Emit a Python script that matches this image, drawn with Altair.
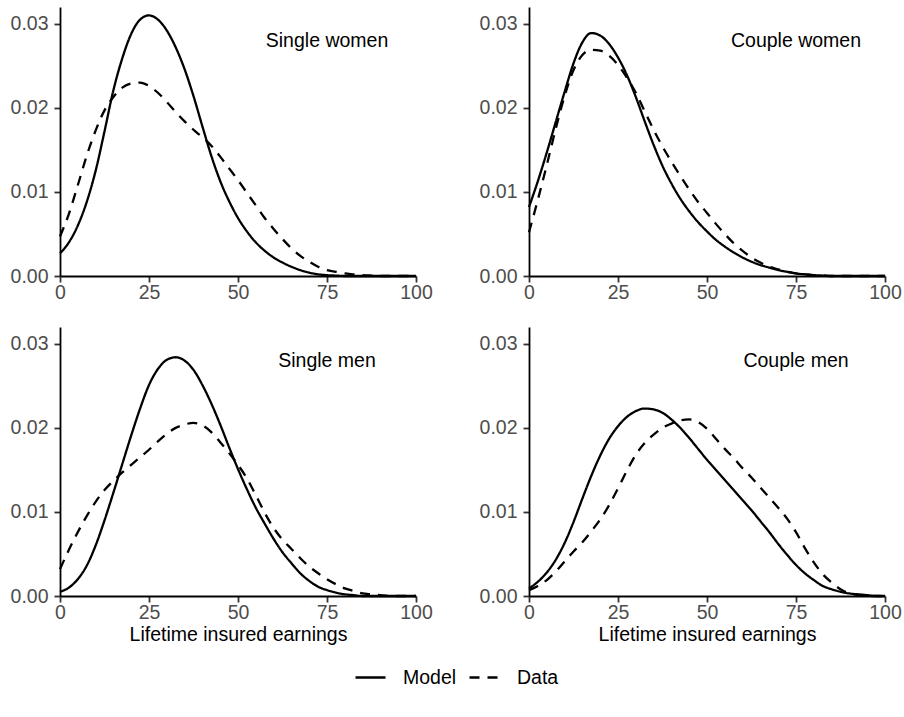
import altair as alt
import pandas as pd

# Common grid of lifetime insured earnings (0 to 100 in steps of 2.5)
earnings = [i * 2.5 for i in range(41)]

panel_names = ["Single women", "Couple women", "Single men", "Couple men"]

single_women_model = [
    0.0027, 0.0040, 0.0060, 0.0088, 0.0125, 0.0172, 0.0221, 0.0259, 0.0288, 0.0305,
    0.0310, 0.0305, 0.0292, 0.0272, 0.0246, 0.0214, 0.0178, 0.0143, 0.0113, 0.0089,
    0.0069, 0.0053, 0.0040, 0.0030, 0.0022, 0.0016, 0.0011, 0.0007, 0.0004, 0.0002,
    0.0001, 0.00005, 0.0, 0.0, 0.0, 0.0, 0.0, 0.0, 0.0, 0.0, 0.0,
]
single_women_data = [
    0.0047, 0.0074, 0.0108, 0.0143, 0.0173, 0.0197, 0.0213, 0.0224, 0.0229, 0.0230,
    0.0226, 0.0218, 0.0207, 0.0195, 0.0184, 0.0174, 0.0165, 0.0155, 0.0142, 0.0128,
    0.0114, 0.0099, 0.0084, 0.0069, 0.0056, 0.0044, 0.0033, 0.0024, 0.0017, 0.0011,
    0.0007, 0.0005, 0.0003, 0.0002, 0.0001, 0.00005, 0.0, 0.0, 0.0, 0.0, 0.0,
]
couple_women_model = [
    0.0082, 0.0113, 0.0147, 0.0183, 0.0219, 0.0253, 0.0278, 0.0289, 0.0286, 0.0276,
    0.0260, 0.0239, 0.0213, 0.0184, 0.0156, 0.0131, 0.0110, 0.0092, 0.0077, 0.0064,
    0.0053, 0.0043, 0.0035, 0.0028, 0.0022, 0.0017, 0.0013, 0.0010, 0.0007, 0.0005,
    0.0003, 0.0002, 0.0001, 0.00005, 0.0, 0.0, 0.0, 0.0, 0.0, 0.0, 0.0,
]
couple_women_data = [
    0.0052, 0.0091, 0.0132, 0.0175, 0.0214, 0.0245, 0.0263, 0.0269, 0.0268, 0.0262,
    0.0251, 0.0236, 0.0218, 0.0196, 0.0174, 0.0154, 0.0136, 0.0119, 0.0103, 0.0088,
    0.0075, 0.0062, 0.0050, 0.0039, 0.0030, 0.0022, 0.0016, 0.0011, 0.0008, 0.0005,
    0.0003, 0.0002, 0.0001, 0.00005, 0.0, 0.0, 0.0, 0.0, 0.0, 0.0, 0.0,
]
single_men_model = [
    0.0005, 0.0010, 0.0020, 0.0036, 0.0060, 0.0090, 0.0123, 0.0157, 0.0191, 0.0223,
    0.0251, 0.0270, 0.0281, 0.0284, 0.0280, 0.0269, 0.0251, 0.0229, 0.0204, 0.0177,
    0.0151, 0.0127, 0.0105, 0.0086, 0.0068, 0.0052, 0.0039, 0.0027, 0.0018, 0.0011,
    0.0007, 0.0004, 0.0002, 0.0001, 0.0, 0.0, 0.0, 0.0, 0.0, 0.0, 0.0,
]
single_men_data = [
    0.0032, 0.0055, 0.0076, 0.0095, 0.0112, 0.0126, 0.0137, 0.0147, 0.0156, 0.0165,
    0.0174, 0.0184, 0.0193, 0.0200, 0.0204, 0.0206, 0.0203, 0.0195, 0.0183, 0.0170,
    0.0156, 0.0140, 0.0120, 0.0099, 0.0081, 0.0067, 0.0056, 0.0045, 0.0035, 0.0027,
    0.0020, 0.0014, 0.0009, 0.0006, 0.0003, 0.0002, 0.0001, 0.0, 0.0, 0.0, 0.0,
]
couple_men_model = [
    0.0009, 0.0017, 0.0028, 0.0043, 0.0063, 0.0088, 0.0116, 0.0143, 0.0167, 0.0187,
    0.0202, 0.0213, 0.0220, 0.0223, 0.0222, 0.0218, 0.0210, 0.0200, 0.0188, 0.0175,
    0.0162, 0.0150, 0.0138, 0.0126, 0.0114, 0.0102, 0.0089, 0.0076, 0.0062, 0.0049,
    0.0037, 0.0027, 0.0019, 0.0012, 0.0008, 0.0005, 0.0003, 0.0002, 0.0001, 0.0, 0.0,
]
couple_men_data = [
    0.0007, 0.0012, 0.0019, 0.0029, 0.0041, 0.0053, 0.0064, 0.0077, 0.0091, 0.0108,
    0.0128, 0.0149, 0.0168, 0.0182, 0.0192, 0.0200, 0.0205, 0.0209, 0.0210, 0.0207,
    0.0199, 0.0187, 0.0175, 0.0164, 0.0152, 0.0141, 0.0129, 0.0117, 0.0105, 0.0092,
    0.0076, 0.0057, 0.0040, 0.0026, 0.0016, 0.0008, 0.0003, 0.0001, 0.0, 0.0, 0.0,
]

series_by_panel = {
    "Single women": (single_women_model, single_women_data),
    "Couple women": (couple_women_model, couple_women_data),
    "Single men": (single_men_model, single_men_data),
    "Couple men": (couple_men_model, couple_men_data),
}

FONT = "Liberation Sans"
FS = 19.5

rows = []
for name, (model, data) in series_by_panel.items():
    for x, m, d in zip(earnings, model, data):
        rows.append({"panel": name, "earnings": x, "density": m, "series": "Model"})
        rows.append({"panel": name, "earnings": x, "density": d, "series": "Data"})
df = pd.DataFrame(rows)

labels_df = pd.DataFrame({"panel": panel_names, "earnings": [75] * 4, "density": [0.028] * 4})

dash_scale = alt.Scale(domain=["Model", "Data"], range=[[1, 0], [10, 8]])


def panel(name, bottom):
    x_enc = alt.X(
        "earnings:Q",
        scale=alt.Scale(domain=[0, 100], nice=False, zero=False),
        axis=alt.Axis(values=[0, 25, 50, 75, 100], format="d", labelFlush=False),
        title="Lifetime insured earnings" if bottom else None,
    )
    y_enc = alt.Y(
        "density:Q",
        scale=alt.Scale(domain=[0, 0.032], nice=False),
        axis=alt.Axis(values=[0, 0.01, 0.02, 0.03], format=".2f", labelFlush=False),
        title=None,
    )
    lines = (
        alt.Chart(df)
        .transform_filter(alt.datum.panel == name)
        .mark_line(color="black", strokeWidth=2.3, interpolate="monotone", strokeCap="butt")
        .encode(
            x=x_enc,
            y=y_enc,
            strokeDash=alt.StrokeDash(
                "series:N",
                scale=dash_scale,
                sort=["Model", "Data"],
                legend=alt.Legend(
                    title=None,
                    orient="none",
                    direction="horizontal",
                    legendX=294,
                    legendY=654,
                    symbolType="stroke",
                    symbolSize=900,
                    symbolStrokeWidth=2.3,
                    symbolStrokeColor="black",
                    labelFontSize=FS,
                    labelFont=FONT,
                    labelColor="black",
                    labelOffset=16,
                    columnPadding=7,
                ),
            ),
        )
    )
    text = (
        alt.Chart(labels_df)
        .transform_filter(alt.datum.panel == name)
        .mark_text(font=FONT, fontSize=FS, color="black", align="center", baseline="middle")
        .encode(x="earnings:Q", y="density:Q", text="panel:N")
    )
    return alt.layer(lines, text).properties(width=356, height=269)


chart = (
    alt.concat(
        panel("Single women", False),
        panel("Couple women", False),
        panel("Single men", True),
        panel("Couple men", True),
        columns=2,
        spacing=alt.RowColnumber(row=51, column=113),
        bounds="flush",
    )
    .properties(padding={"left": 10, "top": 7, "right": 0, "bottom": 8}, background="white")
    .configure_view(stroke=None)
    .configure_axis(
        grid=False,
        domainColor="black",
        domainWidth=1.8,
        tickColor="#333333",
        tickWidth=1.8,
        labelColor="#4d4d4d",
        labelFont=FONT,
        labelFontSize=FS,
        titleFont=FONT,
        titleFontSize=FS,
        titleFontWeight="normal",
        titleColor="black",
    )
    .configure_axisX(tickSize=6, labelPadding=1, titlePadding=4)
    .configure_axisY(tickSize=6, labelPadding=6)
)

chart.save("out.html", embed_options={"renderer": "svg", "actions": False})
